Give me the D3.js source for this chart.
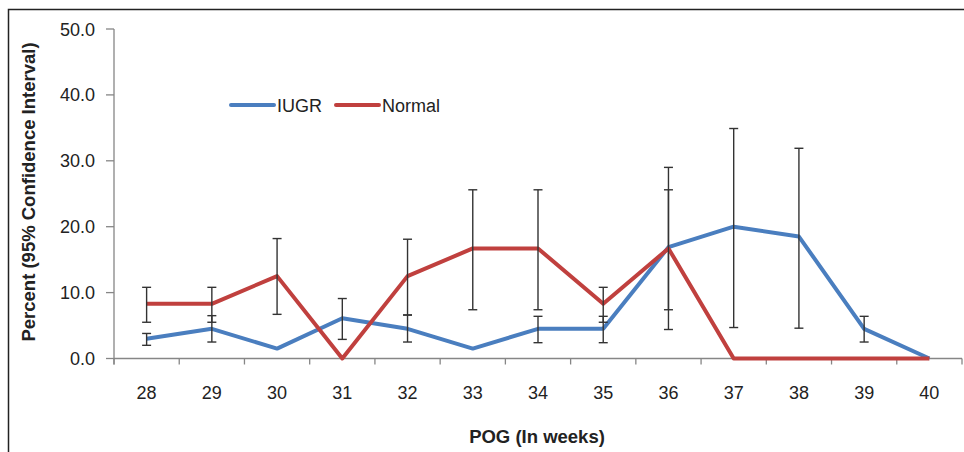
<!DOCTYPE html>
<html><head><meta charset="utf-8">
<script src="https://cdn.jsdelivr.net/npm/d3@7"></script>
<style>body{margin:0;background:#fff}svg{display:block}</style>
</head><body>
<svg id="c" width="964" height="452"></svg>
<script>
const weeks = ["28","29","30","31","32","33","34","35","36","37","38","39","40"];
const iugr = [3.0,4.5,1.5,6.1,4.5,1.5,4.5,4.5,16.9,20.0,18.5,4.5,0];
const iugrLow = [2.0,2.5,null,2.9,2.5,null,2.4,2.4,4.4,4.7,4.6,2.5,null];
const iugrHigh = [3.8,6.5,null,9.1,6.6,null,6.4,6.4,29.0,34.9,31.9,6.4,null];
const normal = [8.3,8.3,12.5,0,12.5,16.7,16.7,8.3,16.7,0,0,0,0];
const normalLow = [5.5,5.5,6.7,null,6.6,7.4,7.4,5.5,7.4,null,null,null,null];
const normalHigh = [10.8,10.8,18.2,null,18.1,25.6,25.6,10.8,25.6,null,null,null,null];
const yTicks = [0,10,20,30,40,50];

const svg = d3.select("#c");
const font = "'Liberation Sans', Arial, sans-serif";
const L = 114, R = 962, T = 29, B = 358.5;
const x = d3.scaleBand().domain(weeks).range([L, R]);
const y = d3.scaleLinear().domain([0, 50]).range([B, T]);
const cx = w => x(w) + x.bandwidth() / 2;

// outer frame
svg.append("rect").attr("x", 8.5).attr("y", 9.5).attr("width", 1000).attr("height", 1000)
  .attr("fill", "none").attr("stroke", "#222").attr("stroke-width", 1.5);

// axes
const axisColor = "#868686";
const gx = svg.append("g").attr("transform", `translate(0,${B})`);
gx.append("line").attr("x1", L).attr("x2", R).attr("stroke", axisColor).attr("stroke-width", 1.3);
const bounds = d3.range(weeks.length + 1).map(i => L + i * x.step());
gx.selectAll("line.t").data(bounds).join("line").attr("class", "t")
  .attr("x1", d => d).attr("x2", d => d).attr("y1", 0).attr("y2", 6)
  .attr("stroke", axisColor).attr("stroke-width", 1.3);
gx.selectAll("text").data(weeks).join("text")
  .attr("x", d => cx(d)).attr("y", 40).attr("text-anchor", "middle")
  .attr("font-family", font).attr("font-size", 18).attr("fill", "#222").text(d => d);

const gy = svg.append("g");
gy.append("line").attr("x1", L).attr("x2", L).attr("y1", T).attr("y2", B + 6)
  .attr("stroke", axisColor).attr("stroke-width", 1.3);
gy.selectAll("line.t").data(yTicks).join("line").attr("class", "t")
  .attr("x1", L - 8).attr("x2", L).attr("y1", d => y(d)).attr("y2", d => y(d))
  .attr("stroke", axisColor).attr("stroke-width", 1.3);
gy.selectAll("text").data(yTicks).join("text")
  .attr("x", 95).attr("y", d => y(d) + 6.5).attr("text-anchor", "end")
  .attr("font-family", font).attr("font-size", 18).attr("fill", "#222").text(d => d.toFixed(1));

// titles
svg.append("text").attr("transform", "translate(35,192) rotate(-90)").attr("text-anchor", "middle")
  .attr("font-family", font).attr("font-size", 18.5).attr("font-weight", "bold").attr("fill", "#222")
  .text("Percent (95% Confidence Interval)");
svg.append("text").attr("x", 537).attr("y", 443).attr("text-anchor", "middle")
  .attr("font-family", font).attr("font-size", 18.5).attr("font-weight", "bold").attr("fill", "#222")
  .text("POG (In weeks)");

const blue = "#4a7ebf", red = "#c0403e";
const line = d3.line().x((d, i) => cx(weeks[i])).y(d => y(d));

function series(vals, lo, hi, color) {
  svg.append("path").datum(vals).attr("d", line).attr("fill", "none")
    .attr("stroke", color).attr("stroke-width", 4).attr("stroke-linejoin", "round");
  const eb = weeks.map((w, i) => ({w, lo: lo[i], hi: hi[i]})).filter(d => d.lo != null);
  const g = svg.append("g").attr("stroke", "#333").attr("stroke-width", 1.4);
  g.selectAll("line.v").data(eb).join("line").attr("class", "v")
    .attr("x1", d => cx(d.w)).attr("x2", d => cx(d.w)).attr("y1", d => y(d.lo)).attr("y2", d => y(d.hi));
  ["lo", "hi"].forEach(k => {
    g.selectAll("line." + k).data(eb).join("line").attr("class", k)
      .attr("x1", d => cx(d.w) - 4.5).attr("x2", d => cx(d.w) + 4.5)
      .attr("y1", d => y(d[k])).attr("y2", d => y(d[k]));
  });
}
series(iugr, iugrLow, iugrHigh, blue);
series(normal, normalLow, normalHigh, red);

// legend
const lg = svg.append("g").attr("font-family", font).attr("font-size", 18).attr("fill", "#222");
[["IUGR", blue, 231], ["Normal", red, 336]].forEach(([n, c, x0]) => {
  lg.append("line").attr("x1", x0).attr("x2", x0 + 43).attr("y1", 105).attr("y2", 105)
    .attr("stroke", c).attr("stroke-width", 4).attr("stroke-linecap", "round");
  lg.append("text").attr("x", x0 + 46).attr("y", 111.5).text(n);
});
</script>
</body></html>
